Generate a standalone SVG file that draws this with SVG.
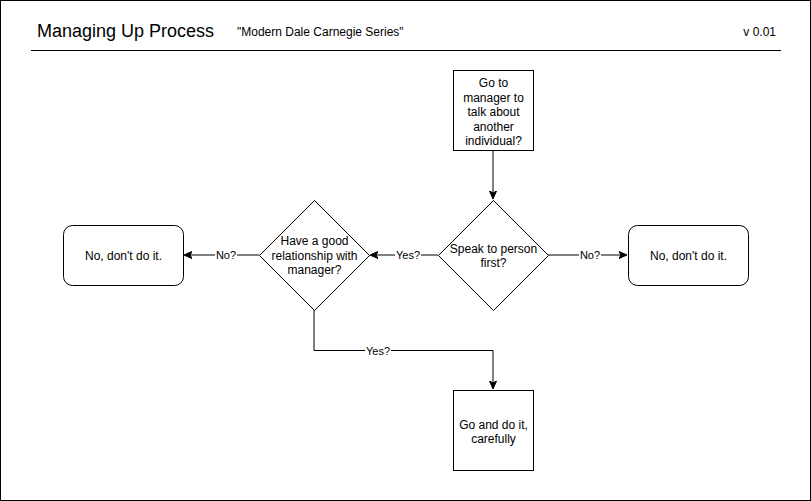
<svg xmlns="http://www.w3.org/2000/svg" width="811" height="501" viewBox="0 0 811 501">
<style>
text{font-family:"Liberation Sans",Arial,sans-serif;fill:#000}
.n{fill:#fff;stroke:#000;stroke-width:1}
.t{font-size:12px;text-anchor:middle}
.l{font-size:11px;text-anchor:middle}
.c{fill:none;stroke:#000;stroke-width:1}
</style>
<defs>
<marker id="a" markerWidth="10" markerHeight="10" refX="7" refY="5" orient="auto" markerUnits="userSpaceOnUse">
<path d="M0,1.5 L8,5 L0,8.5 L2,5 Z" fill="#000" stroke="#000" stroke-width="1"/>
</marker>
</defs>
<rect x="0.5" y="0.5" width="810" height="500" fill="#fff" stroke="#000"/>
<g id="header">
<text x="37" y="37" font-size="18">Managing Up Process</text>
<text x="237" y="36" font-size="12">"Modern Dale Carnegie Series"</text>
<text x="776" y="36" font-size="12" text-anchor="end">v 0.01</text>
<line x1="31" y1="50.5" x2="781" y2="50.5" stroke="#000"/>
</g>
<g id="connectors">
<path class="c" d="M493,150 V198" marker-end="url(#a)"/>
<path class="c" d="M438,255 H371" marker-end="url(#a)"/>
<path class="c" d="M548,255 H626" marker-end="url(#a)"/>
<path class="c" d="M259,255 H185" marker-end="url(#a)"/>
<path class="c" d="M314,310 V350.5 H493 V388" marker-end="url(#a)"/>
<rect x="395" y="248" width="26" height="14" fill="#fff"/>
<text class="l" x="408" y="259">Yes?</text>
<rect x="579" y="248" width="22" height="14" fill="#fff"/>
<text class="l" x="590" y="259">No?</text>
<rect x="215" y="248" width="22" height="14" fill="#fff"/>
<text class="l" x="226" y="259">No?</text>
<rect x="365" y="344" width="26" height="14" fill="#fff"/>
<text class="l" x="378" y="355">Yes?</text>
</g>
<g id="start">
<rect class="n" x="453.5" y="70.5" width="80" height="80"/>
<text class="t" x="493.5" y="87">Go to</text>
<text class="t" x="493.5" y="101.5">manager to</text>
<text class="t" x="493.5" y="116">talk about</text>
<text class="t" x="493.5" y="130.5">another</text>
<text class="t" x="493.5" y="145">individual?</text>
</g>
<g id="speak">
<path class="n" d="M493.5,200.5 L548.5,255.5 L493.5,310.5 L438.5,255.5 Z"/>
<text class="t" x="493.5" y="253">Speak to person</text>
<text class="t" x="493.5" y="267">first?</text>
</g>
<g id="relationship">
<path class="n" d="M314.5,200.5 L369.5,255.5 L314.5,310.5 L259.5,255.5 Z"/>
<text class="t" x="314.5" y="245">Have a good</text>
<text class="t" x="314.5" y="259.5">relationship with</text>
<text class="t" x="314.5" y="274">manager?</text>
</g>
<g id="noLeft">
<rect class="n" x="63.5" y="225.5" width="120" height="60" rx="9"/>
<text class="t" x="123.5" y="260">No, don't do it.</text>
</g>
<g id="noRight">
<rect class="n" x="628.5" y="225.5" width="120" height="60" rx="9"/>
<text class="t" x="688.5" y="260">No, don't do it.</text>
</g>
<g id="doIt">
<rect class="n" x="453.5" y="390.5" width="80" height="80"/>
<text class="t" x="493.5" y="429">Go and do it,</text>
<text class="t" x="493.5" y="443">carefully</text>
</g>
</svg>
